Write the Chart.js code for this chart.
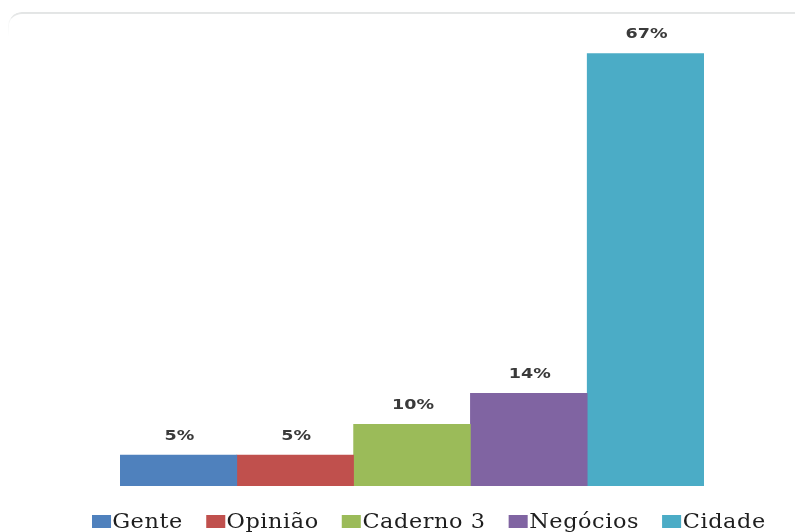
<!DOCTYPE html>
<html>
<head>
<meta charset="utf-8">
<script src="https://cdn.jsdelivr.net/npm/chart.js@4"></script>
<style>
  html, body { margin: 0; padding: 0; background: #ffffff; }
  #wrap { position: relative; width: 795px; height: 532px; overflow: hidden; background: #fff; }
  #frame { position: absolute; left: 8px; top: 12px; width: 820px; height: 40px;
           border-top: 2px solid #e2e4e4; border-left: 1px solid #f0f2f2; border-top-left-radius: 14px;
           -webkit-mask-image: linear-gradient(to bottom, #000 0%, rgba(0,0,0,0) 60%); }
  #chartBox { position: absolute; left: 0; top: 0; width: 795px; height: 532px; }
  #legend { position: absolute; left: 92px; top: 509px; display: flex; align-items: center;
            font-family: "DejaVu Serif", serif; font-size: 20px; letter-spacing: 0.5px; color: #1e1e1e;
            white-space: nowrap; transform: scaleX(1.12); transform-origin: 0 50%; }
  .item { display: flex; align-items: center; margin-right: 21px; }
  .sw { width: 17px; height: 13px; margin-right: 1px; }
</style>
</head>
<body>
<div id="wrap">
  <div id="frame"></div>
  <div id="chartBox"><canvas id="c" width="795" height="532"></canvas></div>
  <div id="legend"></div>
</div>
<script>
// ---- data ----
const categories = ["Gente", "Opinião", "Caderno 3", "Negócios", "Cidade"];
const values = [4.76, 4.76, 9.52, 14.29, 66.67];
const colors = ["#4F81BD", "#C0504D", "#9BBB59", "#8064A2", "#4BACC6"];

const datasets = categories.map((name, i) => ({
  label: name,
  data: [values[i]],
  backgroundColor: colors[i],
  borderWidth: 0,
  categoryPercentage: 1.0,
  barPercentage: 1.0
}));

const valueLabels = {
  id: 'valueLabels',
  afterDatasetsDraw(chart) {
    const ctx = chart.ctx;
    chart.data.datasets.forEach((ds, i) => {
      const meta = chart.getDatasetMeta(i);
      const bar = meta.data[0];
      ctx.save();
      ctx.translate(bar.x + 1, bar.y - 12);
      ctx.scale(1.3, 1);
      ctx.font = 'bold 13.5px "DejaVu Sans", sans-serif';
      ctx.fillStyle = '#3a3a3a';
      ctx.textAlign = 'center';
      ctx.textBaseline = 'bottom';
      ctx.fillText(Math.round(ds.data[0]) + '%', 0, 0);
      ctx.restore();
    });
  }
};

new Chart(document.getElementById('c'), {
  type: 'bar',
  data: { labels: [''], datasets },
  options: {
    responsive: false,
    animation: false,
    layout: { padding: { left: 120, right: 91, top: 32, bottom: 46 } },
    plugins: { legend: { display: false }, tooltip: { enabled: false } },
    scales: {
      x: { display: false, grid: { display: false } },
      y: { display: false, min: 0, max: 70, grid: { display: false } }
    }
  },
  plugins: [valueLabels]
});

// HTML legend
const leg = document.getElementById('legend');
categories.forEach((name, i) => {
  const it = document.createElement('div');
  it.className = 'item';
  const sw = document.createElement('span');
  sw.className = 'sw';
  sw.style.background = colors[i];
  const tx = document.createElement('span');
  tx.textContent = name;
  it.appendChild(sw);
  it.appendChild(tx);
  leg.appendChild(it);
});
</script>
</body>
</html>
